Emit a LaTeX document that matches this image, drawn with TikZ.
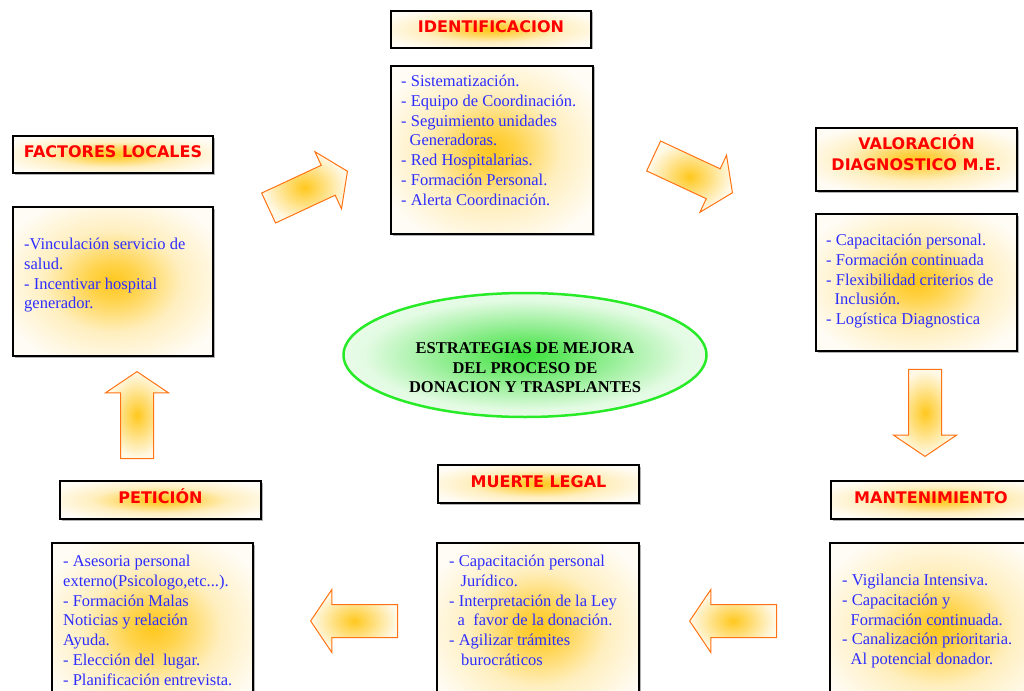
\documentclass[tikz,border=0pt]{standalone}
\usepackage{fontspec}
\setmainfont{Liberation Serif}
\newfontfamily\headfont{DejaVu Sans}
\usetikzlibrary{shapes.geometric,shapes.arrows,shadows}

\definecolor{txtblue}{RGB}{45,45,255}
\definecolor{hdred}{RGB}{255,0,0}
\definecolor{glowcore}{RGB}{255,200,30}
\definecolor{cream}{RGB}{255,252,245}
\definecolor{arrowline}{RGB}{255,115,20}
\definecolor{ringgreen}{RGB}{40,235,40}
\definecolor{greencore}{RGB}{60,225,60}

% soft glows used as fills
\pgfdeclareradialshading{boxglow}{\pgfpoint{0bp}{0bp}}{%
  color(0bp)=(glowcore); color(6bp)=(glowcore!80!cream);
  color(17bp)=(glowcore!25!cream); color(30bp)=(cream); color(50bp)=(cream)}
\pgfdeclareradialshading{arrowglow}{\pgfpoint{0bp}{0bp}}{%
  color(0bp)=(glowcore); color(8bp)=(glowcore!70!white);
  color(24bp)=(glowcore!12!white); color(40bp)=(white); color(50bp)=(white)}
\pgfdeclareradialshading{ovalglow}{\pgfpoint{0bp}{0bp}}{%
  color(0bp)=(greencore); color(8bp)=(greencore!70!white);
  color(22bp)=(greencore!15!white); color(34bp)=(white); color(50bp)=(white)}

\newcommand\lead{\rule{0pt}{12pt}}
\newcommand\ind{\hspace*{8.5pt}}

\tikzset{
  panel/.style={draw=black, line width=2pt, shade, shading=boxglow,
    inner sep=0pt, anchor=north west,
    drop shadow={shadow xshift=1.5pt, shadow yshift=-1.5pt, fill=gray!60, opacity=1}},
  headbox/.style={panel, text=hdred, text height=12pt, text depth=5.4pt,
    font=\headfont\bfseries\fontsize{16}{21}\selectfont},
  bodytext/.style={inner sep=0pt, anchor=north west, align=left, text=txtblue,
    font=\fontsize{16.5}{19.9}\selectfont},
  flowarrow/.style={single arrow, draw=arrowline, line width=1pt, shade, shading=arrowglow,
    inner xsep=0pt, inner ysep=16pt, minimum height=87pt,
    single arrow head extend=15pt, single arrow tip angle=112,
    single arrow head indent=0pt, anchor=tip},
}

\begin{document}
\begin{tikzpicture}[x=1pt, y=-1pt]
\path[use as bounding box] (0,0) rectangle (1024,690);
\fill[white] (0,0) rectangle (1024,690);
\clip (0,0) rectangle (1024,690);

% ---------- header boxes ----------
\node[headbox, minimum width=200pt, minimum height=37pt] (identHead) at (390,10) {IDENTIFICACION};
\node[headbox, minimum width=200pt, minimum height=37pt] (factHead) at (12,135) {FACTORES LOCALES};
\node[headbox, minimum width=201pt, minimum height=63pt, text height=21pt, text depth=19.8pt]
  (valHead) at (815,127) {\begin{tabular}{@{}c@{}}VALORACIÓN\\DIAGNOSTICO M.E.\end{tabular}};
\node[headbox, minimum width=216pt, minimum height=38pt] (mantHead) at (830,480) {\hspace*{-16pt}MANTENIMIENTO};
\node[headbox, minimum width=201pt, minimum height=38pt] (muerteHead) at (437,464) {MUERTE LEGAL};
\node[headbox, minimum width=201pt, minimum height=38pt] (petHead) at (59,480) {PETICIÓN};

% ---------- body boxes ----------
\node[panel, minimum width=202pt, minimum height=168pt] (identBody) at (390,65) {};
\node[panel, minimum width=200pt, minimum height=149pt] (factBody) at (12,206) {};
\node[panel, minimum width=201pt, minimum height=137pt] (valBody) at (815,213) {};
\node[panel, minimum width=216pt, minimum height=170pt] (mantBody) at (829,542) {};
\node[panel, minimum width=202pt, minimum height=170pt] (muerteBody) at (436,542) {};
\node[panel, minimum width=201pt, minimum height=170pt] (petBody) at (51,542) {};

% ---------- body texts ----------
\node[bodytext] (identText) at (401,74) {\lead- Sistematización.\\
- Equipo de Coordinación.\\
- Seguimiento unidades\\
\ind Generadoras.\\
- Red Hospitalarias.\\
- Formación Personal.\\
- Alerta Coordinación.};

\node[bodytext] (factText) at (24,237) {\lead-Vinculación servicio de\\
salud.\\
- Incentivar hospital\\
generador.};

\node[bodytext] (valText) at (826,233) {\lead- Capacitación personal.\\
- Formación continuada\\
- Flexibilidad criterios de\\
\ind Inclusión.\\
- Logística Diagnostica};

\node[bodytext] (mantText) at (842,573) {\lead- Vigilancia Intensiva.\\
- Capacitación y\\
\ind Formación continuada.\\
- Canalización prioritaria.\\
\ind Al potencial donador.};

\node[bodytext] (muerteText) at (449,554) {\lead- Capacitación personal\\
\hspace*{11.5pt}Jurídico.\\
- Interpretación de la Ley\\
\ind a~ favor de la donación.\\
- Agilizar trámites\\
\hspace*{12pt}burocráticos};

\node[bodytext] (petText) at (63,554) {\lead- Asesoria personal\\
externo(Psicologo,etc...).\\
- Formación Malas\\
Noticias y relación\\
Ayuda.\\
- Elección del~ lugar.\\
- Planificación entrevista.};

% ---------- central ellipse ----------
\node[ellipse, draw=ringgreen, line width=2.5pt, shade, shading=ovalglow,
      inner sep=0pt, minimum width=363pt, minimum height=124pt] (core) at (525,355) {};
\node[inner sep=0pt, align=center, font=\bfseries\fontsize{16.5}{19.5}\selectfont]
      (coreText) at ([yshift=-13pt]core.center) {ESTRATEGIAS DE MEJORA\\DEL PROCESO DE\\DONACION Y TRASPLANTES};

% ---------- block arrows between stages ----------
\node[flowarrow, rotate=25] (arrFactIdent) at (348,171) {};
\node[flowarrow, rotate=-25] (arrIdentVal) at (733,193) {};
\node[flowarrow, rotate=-90] (arrValMant) at (925,457) {};
\node[flowarrow, rotate=180] (arrMantMuerte) at (689,621) {};
\node[flowarrow, rotate=180] (arrMuertePet) at (310,621) {};
\node[flowarrow, rotate=90] (arrPetFact) at (137,371) {};
\end{tikzpicture}
\end{document}
